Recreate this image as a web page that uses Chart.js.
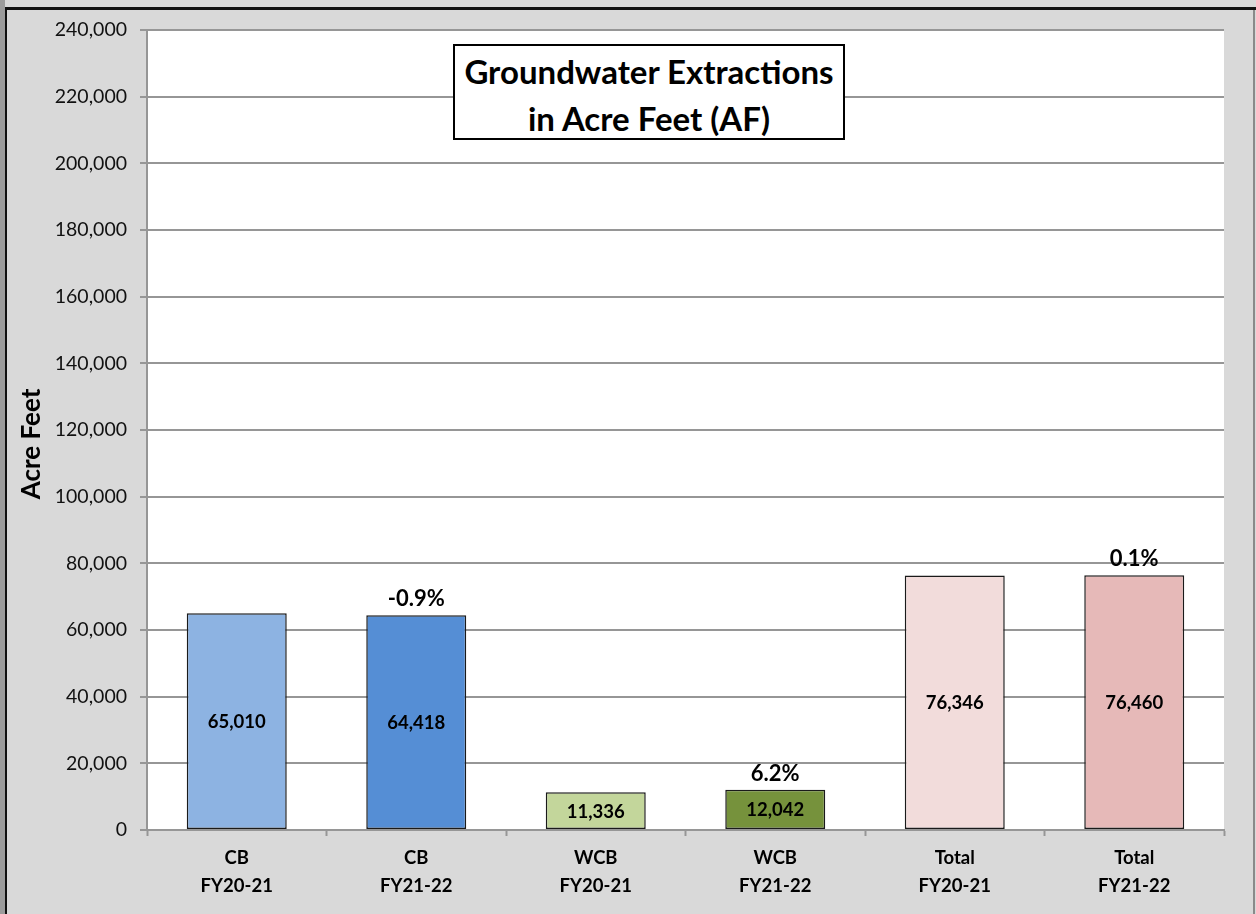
<!DOCTYPE html>
<html>
<head>
<meta charset="utf-8">
<script src="https://cdn.jsdelivr.net/npm/chart.js@4"></script>
<style>
  html, body { margin: 0; padding: 0; }
  body { width: 1256px; height: 914px; overflow: hidden; background: #d9d9d9; position: relative; font-family: Lato, "Open Sans", sans-serif; }
  #edgeLeft { position: absolute; left: 0; top: 0; width: 5px; height: 914px; background: #9c9c9c; }
  #frameLeft { position: absolute; left: 5px; top: 7px; width: 2px; height: 907px; background: #111; }
  #frameTop { position: absolute; left: 5px; top: 7px; width: 1251px; height: 3px; background: #111; }
  #frameRight { position: absolute; left: 1253px; top: 10px; width: 2px; height: 904px; background: #8a8a8a; }
  #wrap { position: absolute; left: 0; top: 0; width: 1256px; height: 914px; }
  #titleBox {
    position: absolute; left: 453px; top: 44px; width: 388px; height: 92px;
    border: 2px solid #000; background: #fff; text-align: center;
    font: bold 33px Lato, "Open Sans", sans-serif; line-height: 47px; color: #000;
    box-sizing: content-box; padding: 0; z-index: 2; white-space: nowrap;
  }
  #titleBox div { margin-top: 2px; }
</style>
</head>
<body>
<div id="edgeLeft"></div>
<div id="wrap"><canvas id="chart" width="1256" height="914"></canvas></div>
<div id="frameLeft"></div>
<div id="frameTop"></div>
<div id="frameRight"></div>
<div id="titleBox"><div>Groundwater Extractions<br>in Acre Feet (AF)</div></div>
<script>
// Groundwater extractions by basin and fiscal year (acre feet)
const categories = [
  ['CB', 'FY20-21'], ['CB', 'FY21-22'],
  ['WCB', 'FY20-21'], ['WCB', 'FY21-22'],
  ['Total', 'FY20-21'], ['Total', 'FY21-22']
];
const extractions = [65010, 64418, 11336, 12042, 76346, 76460];
const barColors = ['#8db3e2', '#558ed5', '#c3d69b', '#76923c', '#f2dcdb', '#e6b9b8'];
const yTicks = [0, 20000, 40000, 60000, 80000, 100000, 120000, 140000, 160000, 180000, 200000, 220000, 240000];
const yAxisTitle = 'Acre Feet';

const fmt = v => v.toLocaleString('en-US');

// Year-over-year change shown above each FY21-22 bar
const changeLabels = extractions.map((v, i) =>
  i % 2 === 1 ? ((v - extractions[i - 1]) / extractions[i - 1] * 100).toFixed(1) + '%' : null
);

const FONT = 'Lato, "Open Sans", sans-serif';

// White plot area on the grey chart background
const plotBackground = {
  id: 'plotBackground',
  beforeDraw(chart) {
    const { ctx, chartArea: a } = chart;
    ctx.save();
    ctx.fillStyle = '#ffffff';
    ctx.fillRect(a.left, a.top, a.right - a.left, a.bottom - a.top);
    ctx.restore();
  }
};

// Rotated value-axis title, sitting a little below the axis midpoint
const axisTitle = {
  id: 'axisTitle',
  afterDraw(chart) {
    const { ctx, chartArea: a } = chart;
    ctx.save();
    ctx.translate(32, (a.top + a.bottom) / 2 + 14);
    ctx.rotate(-Math.PI / 2);
    ctx.fillStyle = '#000';
    ctx.font = 'bold 26px ' + FONT;
    ctx.textAlign = 'center';
    ctx.textBaseline = 'middle';
    ctx.fillText(yAxisTitle, 0, 0);
    ctx.restore();
  }
};

const barLabels = {
  id: 'barLabels',
  afterDatasetsDraw(chart) {
    const ctx = chart.ctx;
    const meta = chart.getDatasetMeta(0);
    ctx.save();
    ctx.fillStyle = '#000';
    ctx.textAlign = 'center';
    ctx.textBaseline = 'middle';
    meta.data.forEach((bar, i) => {
      const p = bar.getProps(['x', 'y', 'base'], true);
      ctx.font = 'bold 18.5px ' + FONT;
      ctx.fillText(fmt(extractions[i]), p.x, (p.y + p.base) / 2 + 1);
      if (changeLabels[i]) {
        ctx.font = 'bold 22px ' + FONT;
        ctx.fillText(changeLabels[i], p.x, p.y - 16);
      }
    });
    ctx.restore();
  }
};

new Chart(document.getElementById('chart'), {
  type: 'bar',
  data: {
    labels: categories,
    datasets: [{
      data: extractions,
      backgroundColor: barColors,
      borderColor: '#1a1a1a',
      borderWidth: 1.5,
      borderSkipped: false,
      categoryPercentage: 1,
      barPercentage: 0.557
    }]
  },
  options: {
    responsive: false,
    animation: false,
    events: [],
    layout: { padding: { left: 0, top: 30, right: 32, bottom: 0 } },
    plugins: {
      legend: { display: false },
      tooltip: { enabled: false },
      title: { display: false }
    },
    scales: {
      x: {
        offset: true,
        grid: {
          offset: true,
          drawOnChartArea: false,
          drawTicks: true,
          tickLength: 6,
          tickWidth: 2,
          tickColor: '#969696'
        },
        border: { color: '#969696', width: 2 },
        ticks: {
          color: '#000',
          padding: 8,
          font: { family: FONT, size: 18.5, weight: 'bold', lineHeight: 1.5 },
          maxRotation: 0,
          autoSkip: false
        },
        afterFit(scale) { scale.height = 84; }
      },
      y: {
        min: 0,
        max: 240000,
        afterBuildTicks(scale) { scale.ticks = yTicks.map(v => ({ value: v })); },
        grid: {
          color: '#969696',
          lineWidth: 2,
          drawTicks: true,
          tickLength: 7,
          tickColor: '#969696'
        },
        border: { color: '#969696', width: 2 },
        ticks: {
          color: '#111',
          padding: 13,
          font: { family: FONT, size: 19.5 },
          callback: v => fmt(v)
        },
        afterFit(scale) { scale.width = 147; }
      }
    }
  },
  plugins: [plotBackground, barLabels, axisTitle]
});
</script>
</body>
</html>
